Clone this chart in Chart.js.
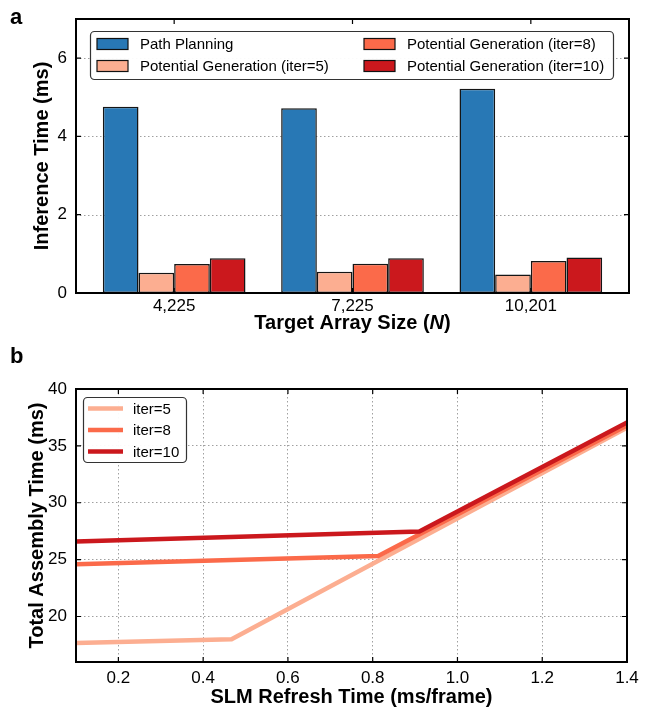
<!DOCTYPE html>
<html>
<head>
<meta charset="utf-8">
<script src="https://cdn.jsdelivr.net/npm/chart.js@4.4.1/dist/chart.umd.min.js"></script>
<style>
  html, body { margin: 0; padding: 0; background: #fff; }
  #wrap { position: relative; width: 654px; height: 710px; }
  #wrap canvas { position: absolute; left: 0; }
</style>
</head>
<body>
<div id="wrap">
  <canvas id="barChart" width="654" height="340" style="top:0"></canvas>
  <canvas id="lineChart" width="654" height="370" style="top:340px"></canvas>
</div>
<script>
// panel a: inference time per target array size
const arraySizes = ['4,225', '7,225', '10,201'];
const pathPlanning = [4.76, 4.72, 5.22];
const potentialIter5 = [0.52, 0.54, 0.47];
const potentialIter8 = [0.74, 0.75, 0.82];
const potentialIter10 = [0.89, 0.89, 0.91];
const inferenceTicks = [0, 2, 4, 6];

// panel b: total assembly time vs SLM refresh time
const refreshIter5 = [0.1, 0.467, 1.4];
const assemblyIter5 = [17.66, 18.0, 36.6];
const refreshIter8 = [0.1, 0.813, 1.4];
const assemblyIter8 = [24.6, 25.32, 36.8];
const refreshIter10 = [0.1, 0.91, 1.4];
const assemblyIter10 = [26.6, 27.48, 37.05];
const refreshTicks = [0.2, 0.4, 0.6, 0.8, 1.0, 1.2, 1.4];
const assemblyTicks = [20, 25, 30, 35, 40];

const FONT = '"Liberation Sans", Arial, Helvetica, sans-serif';
const tickFont = { family: FONT, size: 17 };
const titleFont = { family: FONT, size: 20, weight: 'bold' };
const gridColor = '#a0a0a0';
const gridDash = [1.5, 2.5];

// fixed axis sizes so the plot box lands where the figure has it
function fixHeight(h) {
  return s => { s.height = h; s.paddingLeft = 0; s.paddingRight = 0; };
}
function fixWidth(w) {
  return s => { s.width = w; s.paddingTop = 0; s.paddingBottom = 0; };
}

// axes box (may be a bit wider than the chart area), dotted y grid,
// inward ticks on all four sides and the panel letter
function frameBox(chart, opts) {
  const a = chart.chartArea;
  const pad = opts.padX || 0;
  return { left: a.left - pad, right: a.right + pad, top: a.top, bottom: a.bottom };
}

const framePlugin = {
  id: 'frame',
  beforeDatasetsDraw(chart, args, opts) {
    if (!opts.ownGrid) return;
    const { ctx, scales: { y } } = chart;
    const b = frameBox(chart, opts);
    ctx.save();
    ctx.strokeStyle = gridColor;
    ctx.lineWidth = 1;
    ctx.setLineDash(gridDash);
    ctx.beginPath();
    y.ticks.forEach((t, i) => {
      const py = Math.round(y.getPixelForTick(i)) + 0.5;
      ctx.moveTo(b.left, py); ctx.lineTo(b.right, py);
    });
    ctx.stroke();
    ctx.restore();
  },
  afterDraw(chart, args, opts) {
    const { ctx, scales: { x, y } } = chart;
    const b = frameBox(chart, opts);
    const len = 5;
    ctx.save();
    ctx.strokeStyle = '#000';
    ctx.lineWidth = 1.2;
    ctx.beginPath();
    x.ticks.forEach((t, i) => {
      const px = x.getPixelForTick(i);
      ctx.moveTo(px, b.bottom); ctx.lineTo(px, b.bottom - len);
      ctx.moveTo(px, b.top); ctx.lineTo(px, b.top + len);
    });
    y.ticks.forEach((t, i) => {
      const py = y.getPixelForTick(i);
      ctx.moveTo(b.left, py); ctx.lineTo(b.left + len, py);
      ctx.moveTo(b.right, py); ctx.lineTo(b.right - len, py);
    });
    ctx.stroke();
    ctx.lineWidth = 2;
    ctx.strokeRect(b.left, b.top, b.right - b.left, b.bottom - b.top);
    ctx.fillStyle = '#000';
    ctx.font = 'bold 22px ' + FONT;
    ctx.textBaseline = 'middle';
    ctx.textAlign = 'left';
    ctx.fillText(opts.letter, 10, opts.letterY);
    ctx.restore();
  }
};

function roundBox(ctx, x, y, w, h, r) {
  ctx.beginPath();
  ctx.moveTo(x + r, y);
  ctx.arcTo(x + w, y, x + w, y + h, r);
  ctx.arcTo(x + w, y + h, x, y + h, r);
  ctx.arcTo(x, y + h, x, y, r);
  ctx.arcTo(x, y, x + w, y, r);
  ctx.closePath();
}

// two-column legend for panel a, plus the italic N in the x title
const barExtras = {
  id: 'barExtras',
  afterDraw(chart) {
    const { ctx, chartArea: a } = chart;
    ctx.save();
    roundBox(ctx, 90.5, 31.5, 523, 48, 4);
    ctx.fillStyle = 'rgba(255,255,255,0.95)';
    ctx.fill();
    ctx.strokeStyle = '#333';
    ctx.lineWidth = 1.2;
    ctx.stroke();
    const colPatch = [97, 364];
    const colText = [140, 407];
    const rowY = [44, 66];
    ctx.font = '15px ' + FONT;
    ctx.textBaseline = 'middle';
    chart.data.datasets.forEach((ds, i) => {
      const col = Math.floor(i / 2), row = i % 2;
      ctx.fillStyle = ds.backgroundColor;
      ctx.fillRect(colPatch[col], rowY[row] - 5.5, 31, 11);
      ctx.strokeStyle = '#111';
      ctx.lineWidth = 1.2;
      ctx.strokeRect(colPatch[col], rowY[row] - 5.5, 31, 11);
      ctx.fillStyle = '#000';
      ctx.fillText(ds.label, colText[col], rowY[row] + 1);
    });

    const parts = [['Target Array Size (', 'bold'], ['N', 'italic bold'], [')', 'bold']];
    const widths = parts.map(p => { ctx.font = p[1] + ' 20px ' + FONT; return ctx.measureText(p[0]).width; });
    let cx = (a.left + a.right) / 2 - widths.reduce((s, w) => s + w, 0) / 2;
    ctx.fillStyle = '#000';
    parts.forEach((p, i) => {
      ctx.font = p[1] + ' 20px ' + FONT;
      ctx.fillText(p[0], cx, 323);
      cx += widths[i];
    });
    ctx.restore();
  }
};

const lineLegend = {
  id: 'lineLegend',
  afterDraw(chart) {
    const { ctx } = chart;
    ctx.save();
    roundBox(ctx, 83.5, 57.5, 103, 65, 4);
    ctx.fillStyle = 'rgba(255,255,255,0.95)';
    ctx.fill();
    ctx.strokeStyle = '#333';
    ctx.lineWidth = 1.2;
    ctx.stroke();
    const rowY = [68.5, 90, 111.5];
    ctx.font = '15px ' + FONT;
    ctx.textBaseline = 'middle';
    chart.data.datasets.forEach((ds, i) => {
      ctx.strokeStyle = ds.borderColor;
      ctx.lineWidth = 4.5;
      ctx.beginPath();
      ctx.moveTo(88, rowY[i]);
      ctx.lineTo(123, rowY[i]);
      ctx.stroke();
      ctx.fillStyle = '#000';
      ctx.fillText(ds.label, 133, rowY[i] + 1);
    });
    ctx.restore();
  }
};

const barStyle = { borderColor: '#151515', borderWidth: 1.5, borderSkipped: false,
  categoryPercentage: 0.8, barPercentage: 1.0 };

// chart area 85..620 so the categories sit like matplotlib's x margins; box drawn at 76..627
new Chart(document.getElementById('barChart'), {
  type: 'bar',
  data: {
    labels: arraySizes,
    datasets: [
      { label: 'Path Planning', data: pathPlanning, backgroundColor: '#2878b5', ...barStyle },
      { label: 'Potential Generation (iter=5)', data: potentialIter5, backgroundColor: '#fcae91', ...barStyle },
      { label: 'Potential Generation (iter=8)', data: potentialIter8, backgroundColor: '#fb6a4a', ...barStyle },
      { label: 'Potential Generation (iter=10)', data: potentialIter10, backgroundColor: '#cb181d', ...barStyle }
    ]
  },
  options: {
    responsive: false,
    animation: false,
    layout: { padding: { top: 19, right: 34, bottom: 0, left: 0 } },
    plugins: {
      legend: { display: false },
      tooltip: { enabled: false },
      frame: { letter: 'a', letterY: 18, padX: 9, ownGrid: true }
    },
    scales: {
      x: {
        grid: { display: false, drawTicks: false },
        border: { display: false },
        ticks: { font: tickFont, color: '#000', padding: 3 },
        afterFit: fixHeight(47)
      },
      y: {
        min: 0,
        max: 7,
        afterBuildTicks(s) { s.ticks = inferenceTicks.map(v => ({ value: v })); },
        grid: { display: false, drawTicks: false },
        border: { display: false },
        ticks: { font: tickFont, color: '#000', padding: 18 },
        title: { display: true, text: 'Inference Time (ms)', font: titleFont, color: '#000', padding: { top: 30 } },
        afterFit: fixWidth(85)
      }
    }
  },
  plugins: [framePlugin, barExtras]
});

const toPoints = (xs, ys) => xs.map((x, i) => ({ x, y: ys[i] }));
const lineStyle = { borderWidth: 4.5, pointRadius: 0, tension: 0, fill: false, borderJoinStyle: 'miter' };

new Chart(document.getElementById('lineChart'), {
  type: 'line',
  data: {
    datasets: [
      { label: 'iter=5', data: toPoints(refreshIter5, assemblyIter5), borderColor: '#fcae91', order: 2, ...lineStyle },
      { label: 'iter=8', data: toPoints(refreshIter8, assemblyIter8), borderColor: '#fb6a4a', order: 1, ...lineStyle },
      { label: 'iter=10', data: toPoints(refreshIter10, assemblyIter10), borderColor: '#cb181d', order: 0, ...lineStyle }
    ]
  },
  options: {
    responsive: false,
    animation: false,
    layout: { padding: { top: 49, right: 27, bottom: 0, left: 0 } },
    plugins: {
      legend: { display: false },
      tooltip: { enabled: false },
      frame: { letter: 'b', letterY: 17 }
    },
    scales: {
      x: {
        type: 'linear',
        min: 0.1,
        max: 1.4,
        afterBuildTicks(s) { s.ticks = refreshTicks.map(v => ({ value: v })); },
        grid: { color: gridColor, lineWidth: 1, drawTicks: false },
        border: { display: false, dash: gridDash },
        ticks: { font: tickFont, color: '#000', padding: 6, callback: v => v.toFixed(1) },
        title: { display: true, text: 'SLM Refresh Time (ms/frame)', font: titleFont, color: '#000', padding: { bottom: 1 } },
        afterFit: fixHeight(48)
      },
      y: {
        min: 16,
        max: 40,
        afterBuildTicks(s) { s.ticks = assemblyTicks.map(v => ({ value: v })); },
        grid: { color: gridColor, lineWidth: 1, drawTicks: false },
        border: { display: false, dash: gridDash },
        ticks: { font: tickFont, color: '#000', padding: 9 },
        title: { display: true, text: 'Total Assembly Time (ms)', font: titleFont, color: '#000', padding: { top: 25 } },
        afterFit: fixWidth(76)
      }
    }
  },
  plugins: [framePlugin, lineLegend]
});
</script>
</body>
</html>
